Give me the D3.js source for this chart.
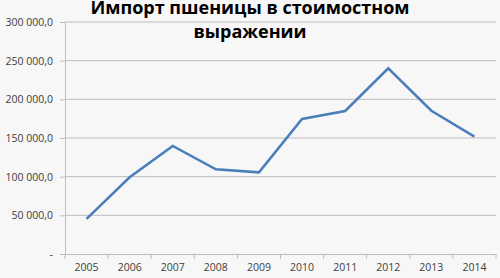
<!DOCTYPE html>
<html>
<head>
<meta charset="utf-8">
<script src="https://cdn.jsdelivr.net/npm/d3@7"></script>
<style>
  body { margin: 0; background: #f7f7f7; }
  svg { display: block; }
</style>
</head>
<body>
<svg id="chart" width="500" height="278"></svg>
<script>
const years = ['2005', '2006', '2007', '2008', '2009', '2010', '2011', '2012', '2013', '2014'];
const values = [45300, 99200, 139700, 109500, 105600, 174600, 184900, 240100, 185300, 151700];
const yTicks = [0, 50000, 100000, 150000, 200000, 250000, 300000];
const titleLines = ['Импорт пшеницы в стоимостном', 'выражении'];

const svg = d3.select('#chart');
const margin = { top: 22, right: 4, bottom: 24, left: 65 };
const width = 500 - margin.left - margin.right;
const height = 278 - margin.top - margin.bottom;

svg.append('rect')
  .attr('width', 500)
  .attr('height', 278)
  .attr('fill', '#f7f7f7');

const g = svg.append('g')
  .attr('transform', `translate(${margin.left},${margin.top})`);

const x = d3.scaleBand()
  .domain(years)
  .range([0, width]);

const y = d3.scaleLinear()
  .domain([0, 300000])
  .range([height, 0]);

// format like "300 000,0", zero shown as "-"
const fmt = v => v === 0 ? '-' : d3.format(',.1f')(v).replace(/,/g, ' ').replace('.', ',');

// gridlines
g.selectAll('.grid')
  .data(yTicks.filter(d => d > 0))
  .enter()
  .append('line')
  .attr('x1', 0)
  .attr('x2', width)
  .attr('y1', d => y(d))
  .attr('y2', d => y(d))
  .attr('stroke', '#bdbdbd')
  .attr('stroke-width', 1);

// y axis
const yAxis = g.append('g')
  .call(d3.axisLeft(y).tickValues(yTicks).tickFormat(fmt).tickSize(5).tickPadding(7));
yAxis.select('.domain').attr('stroke', '#bdbdbd');
yAxis.selectAll('line').attr('stroke', '#bdbdbd');
yAxis.selectAll('text')
  .attr('fill', '#404040')
  .style('font-family', 'Open Sans, sans-serif')
  .style('font-size', '10.5px');

// x axis with ticks at band edges
const xAxis = g.append('g')
  .attr('transform', `translate(0,${height})`)
  .call(d3.axisBottom(x).tickSize(0).tickPadding(10));
xAxis.select('.domain').attr('stroke', '#bdbdbd');
xAxis.selectAll('text')
  .attr('fill', '#404040')
  .style('font-family', 'Open Sans, sans-serif')
  .style('font-size', '10.5px');

g.append('g')
  .selectAll('line')
  .data(years.concat(['end']))
  .enter()
  .append('line')
  .attr('x1', (d, i) => i < years.length ? x(d) : width)
  .attr('x2', (d, i) => i < years.length ? x(d) : width)
  .attr('y1', height)
  .attr('y2', height + 5)
  .attr('stroke', '#bdbdbd');

// line
g.append('path')
  .datum(values)
  .attr('fill', 'none')
  .attr('stroke', '#4a7ebb')
  .attr('stroke-width', 2.5)
  .attr('stroke-linejoin', 'miter')
  .attr('d', d3.line()
    .x((d, i) => x(years[i]) + x.bandwidth() / 2)
    .y(d => y(d)));

// title
svg.append('g')
  .selectAll('text')
  .data(titleLines)
  .enter()
  .append('text')
  .attr('x', 250)
  .attr('y', (d, i) => 14 + i * 24)
  .attr('text-anchor', 'middle')
  .attr('fill', '#000')
  .style('font-family', 'Open Sans, sans-serif')
  .style('font-weight', 'bold')
  .style('font-size', '18px')
  .text(d => d);
</script>
</body>
</html>
